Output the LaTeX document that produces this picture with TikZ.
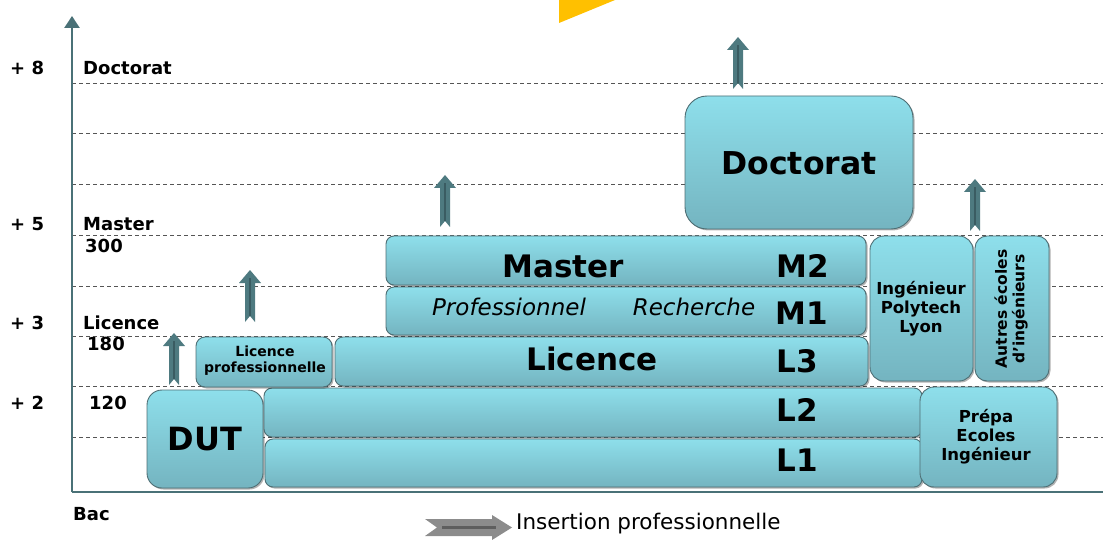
\documentclass[tikz,border=0pt]{standalone}
\usepackage{fontspec}
\setmainfont{DejaVu Sans}
\usetikzlibrary{shadows,arrows.meta}
\definecolor{boxtop}{HTML}{8EDFEB}
\definecolor{boxbot}{HTML}{74B4C0}
\definecolor{boxline}{HTML}{4E6E74}
\definecolor{axiscol}{HTML}{4A7177}
\definecolor{arrcol}{HTML}{4E7A80}
\definecolor{arrdark}{HTML}{3A5C62}
\definecolor{gold}{HTML}{FFC000}
\definecolor{dashcol}{HTML}{555555}
\definecolor{insgray}{HTML}{8C8C8C}
\definecolor{insdark}{HTML}{5E5E5E}
\tikzset{
  box/.style={draw=boxline, line width=0.9pt, top color=boxtop, bottom color=boxbot,
    rounded corners=#1, inner sep=0pt,
    drop shadow={shadow xshift=1.5pt, shadow yshift=-1.5pt, opacity=0.3, fill=black}},
  box/.default=8pt,
  bigt/.style={font=\bfseries\fontsize{31}{36}\selectfont, inner sep=0pt},
  midt/.style={font=\bfseries\fontsize{16.5}{19}\selectfont, align=center, inner sep=0pt},
  rott/.style={font=\bfseries\fontsize{15.5}{17.5}\selectfont, align=center, inner sep=0pt},
  smallt/.style={font=\bfseries\fontsize{14}{16}\selectfont, align=center, inner sep=0pt},
  itt/.style={font=\itshape\fontsize{23}{27}\selectfont, inner sep=0pt},
  axt/.style={font=\bfseries\fontsize{18}{21}\selectfont, anchor=base west, inner sep=0pt},
  dashline/.style={dashcol, line width=0.7pt, dash pattern=on 4pt off 3pt},
  axisline/.style={axiscol, line width=2.6pt},
  uparr/.pic={
    \fill[arrcol] (0,-6) -- (5,0) -- (5,-39) -- (11,-39) -- (0,-52) -- (-11,-39) -- (-5,-39) -- (-5,0) -- cycle;
    \draw[arrdark, line width=1.6pt] (0,-6) -- (0,-44);
  }
}
\begin{document}
\begin{tikzpicture}[x=1pt,y=-1pt]
\useasboundingbox (0,0) rectangle (1103,540);
% yellow triangle
\fill[gold] (559,0) -- (559,23) -- (615,0) -- cycle;
% grid
\foreach \yy in {83,133.5,184,235,286,336,386.5,437}
  \draw[dashline] (72,\yy) -- (1103,\yy);
% axes
\coordinate (origin) at (72,492);
\coordinate (ytop) at (72,16);
\coordinate (xend) at (1103,492);
\draw[axisline, -{Triangle[width=15pt,length=12pt]}] (origin) -- (ytop);
\draw[axisline] (origin) -- (xend);
% axis labels
\node[axt] (p8) at (10,75) {+ 8};
\node[axt] (lDoc) at (83,75) {Doctorat};
\node[axt] (p5) at (10,231) {+ 5};
\node[axt] (lMas) at (83,231) {Master};
\node[axt] (n300) at (85,252) {300};
\node[axt] (p3) at (10,329) {+ 3};
\node[axt] (lLic) at (83,329) {Licence};
\node[axt] (n180) at (87,350) {180};
\node[axt] (p2) at (10,409) {+ 2};
\node[axt] (n120) at (89,409) {120};
\node[axt] (bac) at (73,520) {Bac};
% boxes
\node[box=15pt, minimum width=116pt, minimum height=98pt, font=\bfseries\fontsize{32}{36}\selectfont] (dut) at (205,439) {DUT};
\node[box, minimum width=658pt, minimum height=49pt] (ltwo) at (593,412.5) {};
\node[box, minimum width=657pt, minimum height=48pt] (lone) at (593.5,463) {};
\node[box=14pt, minimum width=137pt, minimum height=100pt] (prepa) at (988.5,437) {};
\node[box=9pt, minimum width=136pt, minimum height=50pt] (lpro) at (264,362) {};
\node[box, minimum width=533pt, minimum height=49pt] (lthree) at (601.5,361.5) {};
\node[box, minimum width=480pt, minimum height=48pt] (mone) at (626,311) {};
\node[box, minimum width=480pt, minimum height=49pt] (mtwo) at (626,260.5) {};
\node[box=14pt, minimum width=103pt, minimum height=145pt] (poly) at (921.5,308.5) {};
\node[box=12pt, minimum width=74pt, minimum height=145pt] (autres) at (1012,308.5) {};
\node[box=22pt, minimum width=228pt, minimum height=133pt] (doct) at (799,162.5) {};
% texts in boxes
\node[bigt, font=\bfseries\fontsize{31.5}{36}\selectfont] (tdoct) at (799,163) {Doctorat};
\node[bigt] (tmaster) at (563,266) {Master};
\node[bigt] (tm2) at (803,266) {M2};
\node[itt] (tpro) at (509,307) {Professionnel};
\node[itt] (trech) at (694,307) {Recherche};
\node[bigt] (tm1) at (802,313) {M1};
\node[bigt] (tlic) at (592,359) {Licence};
\node[bigt] (tl3) at (797,361) {L3};
\node[bigt] (tl2) at (797,410) {L2};
\node[bigt] (tl1) at (797,460) {L1};
\node[smallt] (tlpro) at (265,361) {Licence\\professionnelle};
\node[midt] (tpoly) at (921,309) {Ingénieur\\Polytech\\Lyon};
\node[rott, rotate=90] (tautres) at (1011,309) {Autres écoles\\d’ingénieurs};
\node[midt] (tprepa) at (986,437) {Prépa\\Ecoles\\Ingénieur};
% up arrows
\pic at (174,385) {uparr};
\pic at (250,322) {uparr};
\pic at (445,227) {uparr};
\pic at (738,89) {uparr};
\pic at (975,231) {uparr};
% insertion professionnelle
\fill[insgray] (425,519) -- (492,519) -- (492,515) -- (512,527.5) -- (492,540) -- (492,536) -- (425,536) -- (437,527.5) -- cycle;
\draw[insdark, line width=2.2pt] (442,527.5) -- (496,527.5);
\node[anchor=west, inner sep=0pt, font=\fontsize{21.5}{25}\selectfont] (tins) at (516,524) {Insertion professionnelle};
\end{tikzpicture}
\end{document}
